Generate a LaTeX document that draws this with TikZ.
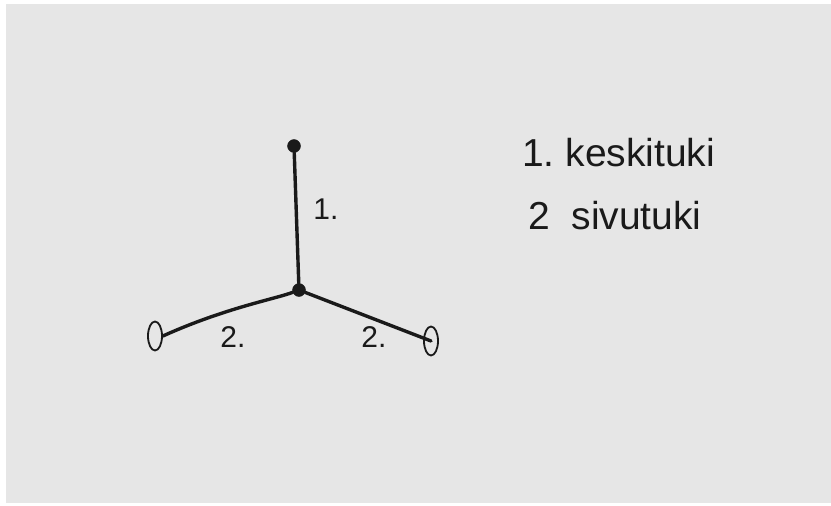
\documentclass[tikz,border=0pt]{standalone}
\usepackage{fontspec}
\setmainfont{Liberation Sans}
\usepackage{xcolor}
\usetikzlibrary{shapes.geometric}
\definecolor{paper}{HTML}{E6E6E6}
\definecolor{ink}{HTML}{1A1A1A}

\begin{document}
\begin{tikzpicture}[x=1pt,y=-1pt,
  dot/.style={circle,fill=ink,draw=ink,inner sep=0pt,minimum size=13pt},
  foot/.style={ellipse,draw=ink,line width=1.8pt,inner sep=0pt,minimum width=14pt,minimum height=29pt},
  rod/.style={draw=ink,line width=3.4pt,line cap=round},
  lbl/.style={text=ink,font=\fontsize{30}{34}\selectfont,inner sep=0pt},
  key/.style={text=ink,font=\fontsize{39}{44}\selectfont,inner sep=0pt,anchor=base west}]
\useasboundingbox (0,0) rectangle (831,506);
\fill[paper] (6,4) rectangle (831,503);
\node[dot]  (top)   at (294,146) {};
\node[dot]  (hub)   at (299,290) {};
\node[foot] (left)  at (155,336) {};
\node[foot] (right) at (431,341) {};
\draw[rod] (top) -- (hub);
\draw[rod] (hub) .. controls (275,299) and (225,308) .. (left.east);
\draw[rod] (hub) -- (right.center);
\node[lbl] (l1) at (326,209) {1.};
\node[lbl] (l2) at (233,337) {2.};
\node[lbl] (l3) at (374,337) {2.};
\node[key] (k1) at (522,166) {1.\ keskituki};
\node[key] (k2) at (528,229) {2\ \ sivutuki};
\end{tikzpicture}
\end{document}
